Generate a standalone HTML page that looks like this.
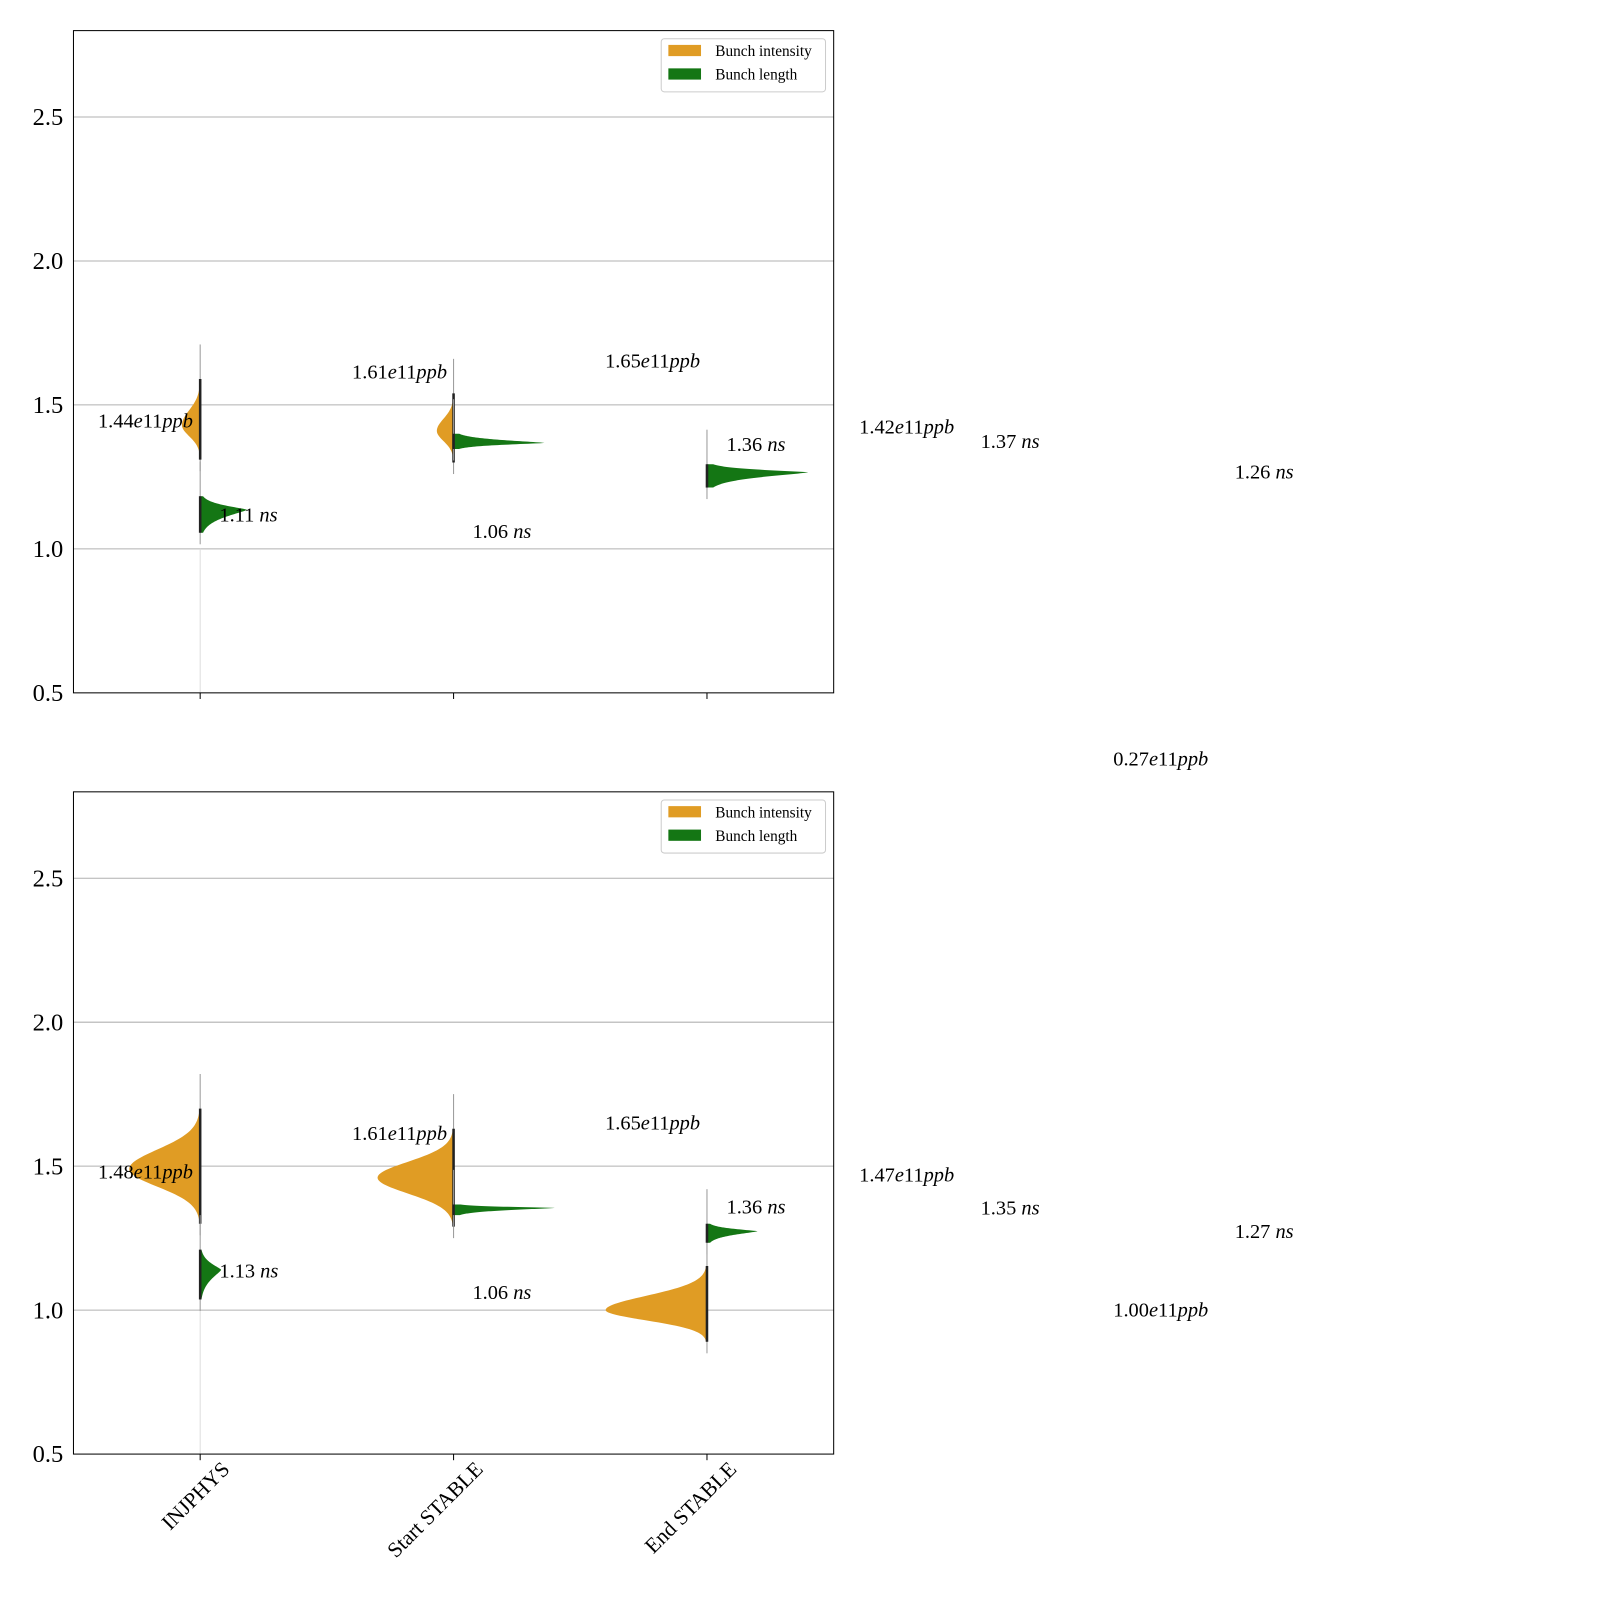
<!DOCTYPE html>
<html><head><meta charset="utf-8"><style>
body{margin:0;background:#fff}
svg{display:block}
text{font-family:"Liberation Serif",serif;fill:#000}
</style></head><body>
<svg id="chart" width="1600" height="1600" viewBox="0 0 1568 1568" xmlns="http://www.w3.org/2000/svg"></svg>
<script>
const categories = ['INJPHYS','Start STABLE','End STABLE'];
const yTicks = [0.5,1.0,1.5,2.0,2.5];
// top panel: intensity (orange, left half) and length (green, right half)
const topIntPeak = [1.43, 1.41, null];
const topIntWidth = [0.072, 0.066, 0];
const topIntLow = [1.31, 1.30, null];
const topIntHigh = [1.59, 1.54, null];
const topLenPeak = [1.136, 1.368, 1.266];
const topLenWidth = [0.185, 0.36, 0.40];
const topLenLow = [1.056, 1.347, 1.213];
const topLenHigh = [1.183, 1.40, 1.294];
// bottom panel
const botIntPeak = [1.49, 1.46, 1.0];
const botIntWidth = [0.28, 0.30, 0.40];
const botIntLow = [1.30, 1.29, 0.89];
const botIntHigh = [1.70, 1.63, 1.153];
const botLenPeak = [1.14, 1.355, 1.274];
const botLenWidth = [0.083, 0.40, 0.20];
const botLenLow = [1.037, 1.33, 1.234];
const botLenHigh = [1.21, 1.367, 1.30];
// annotation labels
const topLabels = [
 ['1.44','e11','ppb',96,419],['1.11',' ','ns',215,511],['1.61','e11','ppb',345,371],['1.06',' ','ns',463,527],
 ['1.65','e11','ppb',593,360],['1.36',' ','ns',712,442],['1.42','e11','ppb',842,425],['1.37',' ','ns',961,439],
 ['1.26',' ','ns',1210,469],['0.27','e11','ppb',1091,750]];
const botLabels = [
 ['1.48','e11','ppb',96,1155],['1.13',' ','ns',215,1252],['1.61','e11','ppb',345,1117],['1.06',' ','ns',463,1273],
 ['1.65','e11','ppb',593,1107],['1.36',' ','ns',712,1189],['1.47','e11','ppb',842,1158],['1.35',' ','ns',961,1190],
 ['1.27',' ','ns',1210,1213],['1.00','e11','ppb',1091,1290]];

const NS='http://www.w3.org/2000/svg';
const svg=document.getElementById('chart');
function mk(tag,attrs,parent){const e=document.createElementNS(NS,tag);for(const k in attrs)e.setAttribute(k,attrs[k]);(parent||svg).appendChild(e);return e;}
const X0=72,X1=817,YMIN=0.5,YMAX=2.8;
const xScale=v=>X0+(v+0.5)/3*(X1-X0);
function panel(top,bottom,name,intP,intW,intL,intH,lenP,lenW,lenL,lenH,labels,showX){
  const yS=v=>bottom-(v-YMIN)/(YMAX-YMIN)*(bottom-top);
  const g=mk('g',{});
  
  
  yTicks.forEach(t=>{
    if(t>0.5){const l=mk('line',{x1:X0,x2:X1,y1:yS(t),y2:yS(t),stroke:'#b0b0b0','stroke-width':1},g);
      }
    const tx=mk('text',{x:62,y:yS(t)+8,'text-anchor':'end','font-size':24},g);
    tx.textContent=t.toFixed(1);
    
  });
  function half(i,P,W,L,H,dir,color,nm){
    if(P[i]==null)return;
    const cx=xScale(i),pxPer=(X1-X0)/3;
    const p=dir<0?2:1.3;
    const su=(H[i]-P[i])/2.2,sd=(P[i]-L[i])/2.2;
    let d=`M${cx},${yS(H[i])}`;
    const n=90;
    for(let k=0;k<=n;k++){
      const y=H[i]-(H[i]-L[i])*k/n;
      const dd=y-P[i];const s=dd>0?su:sd;
      const w=W[i]*Math.exp(-Math.pow(Math.abs(dd)/s,p));
      d+=` L${cx+dir*w*pxPer},${yS(y)}`;
    }
    d+=` L${cx},${yS(L[i])} Z`;
    const pa=mk('path',{d,fill:color},g);
    
    
    const st=mk('line',{x1:cx,x2:cx,y1:yS(H[i]+0.12),y2:yS(L[i]-0.04),stroke:'#999','stroke-width':1},g);
    
    const il=mk('line',{x1:cx,x2:cx,y1:yS(H[i]),y2:yS(L[i]),stroke:'#222','stroke-width':2.5},g);
    
  }
  const gl=mk('line',{x1:xScale(0),x2:xScale(0),y1:yS(1.0),y2:bottom,stroke:'#ddd','stroke-width':1},g);
  
  for(let i=0;i<3;i++){half(i,intP,intW,intL,intH,-1,'#e09c24','intensity');half(i,lenP,lenW,lenL,lenH,1,'#147614','length');}
  const fr=mk('rect',{x:X0,y:top,width:X1-X0,height:bottom-top,fill:'none',stroke:'#000','stroke-width':1},g);
  
  categories.forEach((c,i)=>{
    const x=xScale(i);
    const tk=mk('line',{x1:x,x2:x,y1:bottom,y2:bottom+6,stroke:'#000'},g);
    
    if(showX){const ax=x+30,ay=bottom+16;
      const t=mk('text',{x:ax,y:ay,'text-anchor':'end','font-size':21,transform:`rotate(-45 ${ax} ${ay})`},g);
      t.textContent=c;}
  });
  labels.forEach(l=>{
    const t=mk('text',{x:l[3],y:l[4],'font-size':20},g);
    
    const a=mk('tspan',{},t);a.textContent=l[0];
    if(l[1]==='e11'){const e=mk('tspan',{'font-style':'italic'},t);e.textContent='e';const o=mk('tspan',{},t);o.textContent='11';}
    else{const b=mk('tspan',{},t);b.textContent=l[1];}
    const c=mk('tspan',{'font-style':'italic'},t);c.textContent=l[2];
  });
  const lg=mk('g',{},g);
  
  mk('rect',{x:648,y:top+8,width:161,height:52,rx:3,fill:'#fff',stroke:'#ccc'},lg);
  [['Bunch intensity','#e09c24'],['Bunch length','#147614']].forEach((e,k)=>{
    const r=mk('rect',{x:655,y:top+14+k*23,width:32,height:11,fill:e[1]},lg);
    
    const t=mk('text',{x:701,y:top+25+k*23,'font-size':15},lg);t.textContent=e[0];
    
  });
}
panel(30,679,'top-panel',topIntPeak,topIntWidth,topIntLow,topIntHigh,topLenPeak,topLenWidth,topLenLow,topLenHigh,topLabels,false);
panel(776,1425,'bottom-panel',botIntPeak,botIntWidth,botIntLow,botIntHigh,botLenPeak,botLenWidth,botLenLow,botLenHigh,botLabels,true);
</script>
</body></html>
